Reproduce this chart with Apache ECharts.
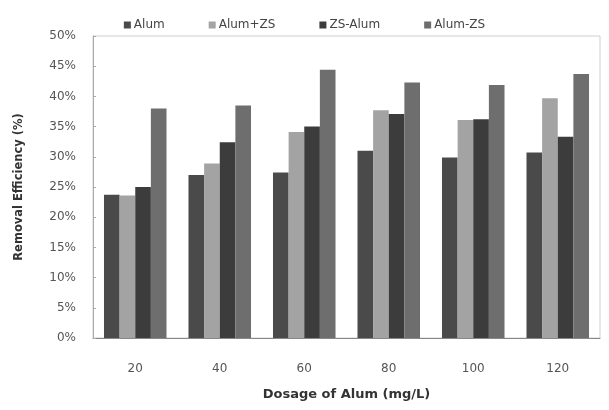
<!DOCTYPE html>
<html>
<head>
<meta charset="utf-8">
<script src="https://cdn.jsdelivr.net/npm/echarts@6/dist/echarts.min.js"></script>
<style>
  html, body { margin: 0; padding: 0; background: #fff; }
  #main { width: 609px; height: 410px; }
</style>
</head>
<body>
<div id="main"></div>
<script>
const categories = ['20', '40', '60', '80', '100', '120']
const seriesNames = ['Alum', 'Alum+ZS', 'ZS-Alum', 'Alum-ZS']
const alum = [23.7, 27.0, 27.4, 31.0, 29.9, 30.7]
const alumZs = [23.6, 28.9, 34.1, 37.7, 36.1, 39.7]
const zsAlum = [25.0, 32.4, 35.0, 37.1, 36.2, 33.3]
const alumDashZs = [38.0, 38.5, 44.4, 42.3, 41.9, 43.7]
const yTicks = [0, 5, 10, 15, 20, 25, 30, 35, 40, 45, 50]

const colors = ['#4a4a4a', '#a3a3a3', '#3c3c3c', '#6e6e6e']
const values = [alum, alumZs, zsAlum, alumDashZs]

const chart = echarts.init(document.getElementById('main'))
const labelFont = { color: '#555', fontFamily: 'DejaVu Sans', fontSize: 12 }

const option = {
  animation: false,
  color: colors,
  legend: {
    top: 14,
    left: 'center',
    itemWidth: 7,
    itemHeight: 7,
    itemGap: 44,
    icon: 'rect',
    textStyle: { color: '#444', fontFamily: 'DejaVu Sans', fontSize: 12, padding: [0, 0, 0, -2] },
    data: seriesNames,
  },
  grid: {
    left: 93,
    right: 9,
    top: 36,
    bottom: 72,
    show: true,
    borderColor: '#cfcfcf',
    borderWidth: 1,
  },
  xAxis: {
    type: 'category',
    data: categories,
    name: 'Dosage of Alum (mg/L)',
    nameLocation: 'middle',
    nameGap: 50,
    nameTextStyle: { color: '#333', fontFamily: 'DejaVu Sans', fontSize: 13, fontWeight: 'bold' },
    axisLine: { lineStyle: { color: '#888', width: 1 } },
    axisTick: { inside: true, length: 3, lineStyle: { color: '#999' } },
    axisLabel: Object.assign({ margin: 25 }, labelFont),
  },
  yAxis: {
    type: 'value',
    min: yTicks[0],
    max: yTicks[yTicks.length - 1],
    interval: 5,
    name: 'Removal Efficiency (%)',
    nameLocation: 'middle',
    nameGap: 68,
    nameTextStyle: { color: '#333', fontFamily: 'DejaVu Sans', fontSize: 11.5, fontWeight: 'bold' },
    axisLine: { show: true, lineStyle: { color: '#aaa', width: 1 } },
    axisTick: { show: true, inside: true, length: 3, lineStyle: { color: '#aaa' } },
    splitLine: { show: false },
    axisLabel: Object.assign({ margin: 17, formatter: '{value}%' }, labelFont),
  },
  series: seriesNames.map((name, i) => ({
    name: name,
    type: 'bar',
    data: values[i],
    barGap: '0%',
    barCategoryGap: '26%',
    itemStyle: { color: colors[i] },
  })),
}
chart.setOption(option)
</script>
</body>
</html>
